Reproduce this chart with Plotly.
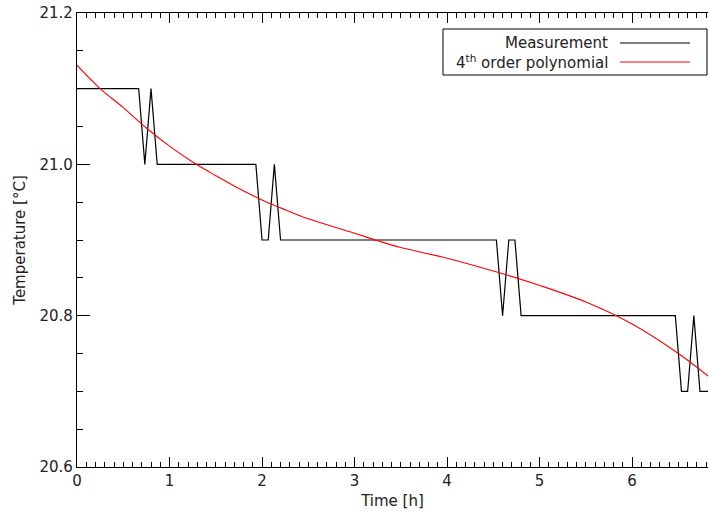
import plotly.graph_objects as go

# Measurement (time in hours, temperature in °C)
meas_t = [0, 0.667, 0.733, 0.8, 0.867, 1.933, 2.0, 2.067, 2.133, 2.2,
          4.533, 4.6, 4.667, 4.733, 4.8, 6.467, 6.533, 6.6, 6.667, 6.733, 6.833]
meas_T = [21.1, 21.1, 21.0, 21.1, 21.0, 21.0, 20.9, 20.9, 21.0, 20.9,
          20.9, 20.8, 20.9, 20.9, 20.8, 20.8, 20.7, 20.7, 20.8, 20.7, 20.7]

# 4th order polynomial fit
poly_t = [0, 0.25, 0.5, 0.75, 1.0, 1.25, 1.5, 1.75, 2.0, 2.25, 2.5, 3.0, 3.25,
          3.5, 4.0, 4.5, 5.0, 5.5, 6.0, 6.5, 6.833]
poly_T = [21.131, 21.100, 21.075, 21.048, 21.024, 21.003, 20.985, 20.968, 20.953,
          20.940, 20.928, 20.909, 20.899, 20.890, 20.876, 20.859, 20.840, 20.818,
          20.789, 20.750, 20.719]

x_ticks = [0, 1, 2, 3, 4, 5, 6]
y_ticks = [20.6, 20.8, 21.0, 21.2]
y_ticklabels = ["20.6", "20.8", "21.0", "21.2"]

legend_labels = ["Measurement", "4<sup>th</sup> order polynomial"]
legend_colors = ["black", "red"]

FONT = "DejaVu Sans, Liberation Sans, sans-serif"
TXT = "#222222"
FS = 15

fig = go.Figure()
fig.add_trace(go.Scatter(x=meas_t, y=meas_T, mode="lines",
                         line=dict(color="black", width=1.2), name=legend_labels[0],
                         showlegend=False))
fig.add_trace(go.Scatter(x=poly_t, y=poly_T, mode="lines", line_shape="spline",
                         line=dict(color="red", width=1.1), name=legend_labels[1],
                         showlegend=False))

axis_common = dict(showgrid=False, zeroline=False, showline=True, linecolor="black",
                   linewidth=1.3, ticks="inside", tickcolor="black", automargin=False,
                   tickwidth=1, tickfont=dict(family=FONT, size=FS, color=TXT))

fig.update_xaxes(range=[0, 6.82], tickvals=x_ticks, ticklen=10, mirror="ticks",
                 minor=dict(dtick=0.1, ticks="inside", ticklen=5, tickcolor="black"),
                 title=dict(text="Time [h]", font=dict(family=FONT, size=FS, color=TXT),
                            standoff=6),
                 **axis_common)
fig.update_yaxes(range=[20.6, 21.2], tickvals=y_ticks, ticktext=y_ticklabels, ticklen=13,
                 mirror=False,
                 minor=dict(dtick=0.05, ticks="inside", ticklen=6, tickcolor="black"),
                 title=dict(text="Temperature [°C]", font=dict(family=FONT, size=FS, color=TXT),
                            standoff=10),
                 **axis_common)

# Custom IDL-style legend: text right-aligned, line sample to its right
box_x0, box_x1 = 443, 707
box_y0, box_y1 = 29, 75
W, H = 708, 514
ml, mr, mt, mb = 77, 0, 13, 47
pw, ph = W - ml - mr, H - mt - mb


def px(xp):
    return (xp - ml) / pw


def py(yp):
    return 1 - (yp - mt) / ph


fig.add_shape(type="rect", xref="paper", yref="paper",
              x0=px(box_x0), x1=px(box_x1), y0=py(box_y1), y1=py(box_y0),
              line=dict(color="black", width=1), fillcolor="white")
for i, (lab, col) in enumerate(zip(legend_labels, legend_colors)):
    yy = 43 + i * 19
    fig.add_annotation(xref="paper", yref="paper", x=px(610), y=py(yy),
                       text=lab, showarrow=False, xanchor="right", yanchor="middle",
                       font=dict(family=FONT, size=FS, color=TXT))
    fig.add_shape(type="line", xref="paper", yref="paper",
                  x0=px(620), x1=px(690), y0=py(yy), y1=py(yy),
                  line=dict(color=col, width=1.2))

fig.update_layout(width=W, height=H, margin=dict(l=ml, r=mr, t=mt, b=mb),
                  plot_bgcolor="white", paper_bgcolor="white", showlegend=False)

fig.write_html("out.html", config={"displayModeBar": False},
               post_script="document.body.style.margin='0';document.body.style.overflow='hidden';")
